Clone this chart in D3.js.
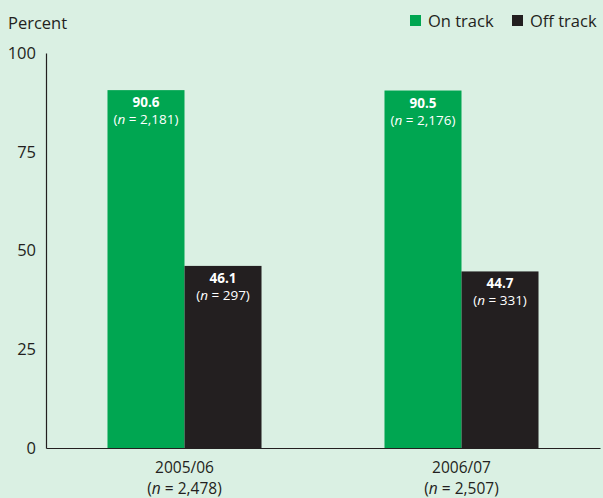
<!DOCTYPE html>
<html>
<head>
<meta charset="utf-8">
<script src="https://cdn.jsdelivr.net/npm/d3@7"></script>
<style>
  body { margin: 0; background: #daf0e3; }
  svg { display: block; font-family: 'Open Sans', 'Noto Sans', sans-serif; }
</style>
</head>
<body>
<svg id="chart"></svg>
<script>
const years = ['2005/06', '2006/07']
const yearN = ['2,478', '2,507']
const series = ['On track', 'Off track']
const onTrack = [90.6, 90.5]
const onTrackN = ['2,181', '2,176']
const offTrack = [46.1, 44.7]
const offTrackN = ['297', '331']
const yTicks = [0, 25, 50, 75, 100]

const colors = { 'On track': '#00a651', 'Off track': '#231f20' }
const textColor = '#231f20'

function render () {
  const width = 603
  const height = 498
  const margin = { top: 53, right: 3, bottom: 50, left: 46 }

  const svg = d3.select('#chart')
    .attr('width', width)
    .attr('height', height)

  const x0 = d3.scaleBand()
    .domain(years)
    .range([margin.left, width - margin.right])
    .paddingInner(0.444)
    .paddingOuter(0.222)

  const x1 = d3.scaleBand()
    .domain(series)
    .range([0, x0.bandwidth()])

  const y = d3.scaleLinear()
    .domain([0, 100])
    .range([height - margin.bottom, margin.top])

  const data = []
  years.forEach((yr, i) => {
    data.push({ year: yr, key: 'On track', value: onTrack[i], n: onTrackN[i] })
    data.push({ year: yr, key: 'Off track', value: offTrack[i], n: offTrackN[i] })
  })

  // bars
  svg.append('g')
    .selectAll('rect').data(data).enter().append('rect')
    .attr('x', d => x0(d.year) + x1(d.key))
    .attr('y', d => y(d.value))
    .attr('width', x1.bandwidth())
    .attr('height', d => y(0) - y(d.value))
    .attr('fill', d => colors[d.key])

  // labels inside bars
  const lbl = svg.append('g')
    .selectAll('g').data(data).enter().append('g')
    .attr('transform', d => `translate(${x0(d.year) + x1(d.key) + x1.bandwidth() / 2},${y(d.value)})`)
    .attr('fill', '#fff')
    .attr('text-anchor', 'middle')
    .style('font-size', '13.5px')

  lbl.append('text')
    .attr('y', 17)
    .style('font-weight', 'bold')
    .text(d => d.value.toFixed(1))

  const nt = lbl.append('text')
    .attr('y', 34)
  nt.append('tspan').text('(')
  nt.append('tspan').style('font-style', 'italic').text('n')
  nt.append('tspan').text(d => ` = ${d.n})`)

  // y axis
  const yAxis = svg.append('g')
    .attr('transform', `translate(${margin.left},0)`)
    .call(d3.axisLeft(y).tickValues(yTicks).tickSize(0).tickPadding(10))
  yAxis.select('.domain').attr('stroke', textColor).attr('stroke-width', 1.2)
  yAxis.selectAll('text')
    .attr('fill', textColor)
    .style('font-size', '16.5px')
    .style('font-family', "'Open Sans', 'Noto Sans', sans-serif")

  // x axis
  const xAxis = svg.append('g')
    .attr('transform', `translate(0,${y(0)})`)
    .call(d3.axisBottom(x0).tickSize(0).tickFormat(''))
  xAxis.select('.domain').attr('stroke', textColor).attr('stroke-width', 1.2)

  const xl = svg.append('g')
    .selectAll('g').data(years).enter().append('g')
    .attr('transform', d => `translate(${x0(d) + x0.bandwidth() / 2},${y(0)})`)
    .attr('text-anchor', 'middle')
    .attr('fill', textColor)
    .style('font-size', '15.5px')
  xl.append('text').attr('y', 25).text(d => d)
  const xn = xl.append('text').attr('y', 46)
  xn.append('tspan').text('(')
  xn.append('tspan').style('font-style', 'italic').text('n')
  xn.append('tspan').text((d, i) => ` = ${yearN[i]})`)

  // y title
  svg.append('text')
    .attr('x', 8)
    .attr('y', 29)
    .attr('fill', textColor)
    .style('font-size', '16.5px')
    .text('Percent')

  // legend
  const legendX = [410, 512]
  const legend = svg.append('g')
    .selectAll('g').data(series).enter().append('g')
    .attr('transform', (d, i) => `translate(${legendX[i]},15)`)
  legend.append('rect')
    .attr('width', 11)
    .attr('height', 11)
    .attr('fill', d => colors[d])
  legend.append('text')
    .attr('x', 18)
    .attr('y', 12)
    .attr('fill', textColor)
    .style('font-size', '16.5px')
    .text(d => d)
}

render()
</script>
</body>
</html>
